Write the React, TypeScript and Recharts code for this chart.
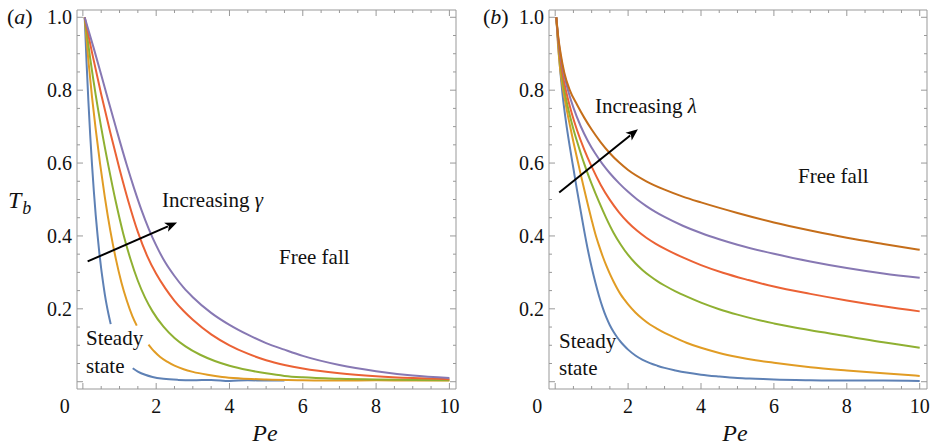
import React from 'react';
import { LineChart, Line, XAxis, YAxis, ReferenceArea, ReferenceLine } from 'recharts';

// panel (a): T_b vs Pe for increasing gamma  [Pe, Tb]; null marks a gap
const gammaBlue = [[0.05, 1.0], [0.1, 0.878], [0.15, 0.771], [0.2, 0.677], [0.25, 0.595], [0.3, 0.522], [0.35, 0.458], [0.4, 0.403], [0.45, 0.353], [0.5, 0.31], [0.55, 0.273], [0.6, 0.239], [0.65, 0.21], [0.7, 0.185], [0.76, 0.158], [1.0, null], [1.36, 0.037], [1.5, 0.028], [1.7, 0.019], [1.9, 0.013], [2.2, 0.008], [2.6, 0.005], [3.0, 0.004], [3.5, 0.005], [4.0, 0.002], [4.5, 0.004], [5.0, 0.003], [5.5, 0.003]];
const gammaOrange = [[0.05, 1.0], [0.15, 0.882], [0.25, 0.781], [0.35, 0.693], [0.47, 0.598], [0.6, 0.506], [0.75, 0.414], [0.9, 0.337], [1.05, 0.273], [1.2, 0.222], [1.35, 0.18], [1.47, 0.154], [1.6, null], [1.79, 0.102], [1.95, 0.083], [2.11, 0.068], [2.3, 0.055], [2.5, 0.044], [2.75, 0.034], [3.0, 0.027], [3.4, 0.019], [3.8, 0.013], [4.3, 0.009], [5.0, 0.006], [6.0, 0.004], [7.0, 0.003], [8.0, 0.004], [9.0, 0.003], [10.0, 0.003]];
const gammaGreen = [[0.05, 1.0], [0.2, 0.887], [0.35, 0.787], [0.5, 0.698], [0.7, 0.591], [0.9, 0.493], [1.1, 0.407], [1.3, 0.336], [1.5, 0.277], [1.7, 0.23], [1.9, 0.193], [2.2, 0.151], [2.5, 0.12], [2.8, 0.097], [3.2, 0.074], [3.6, 0.057], [4.0, 0.044], [4.5, 0.032], [5.0, 0.023], [5.5, 0.016], [6.0, 0.012], [7.0, 0.008], [8.0, 0.006], [9.0, 0.005], [10.0, 0.004]];
const gammaRed = [[0.05, 1.0], [0.25, 0.903], [0.5, 0.789], [0.75, 0.683], [1.0, 0.584], [1.25, 0.492], [1.5, 0.411], [1.75, 0.346], [2.0, 0.296], [2.25, 0.256], [2.5, 0.222], [2.75, 0.194], [3.0, 0.17], [3.5, 0.13], [4.0, 0.1], [4.5, 0.077], [5.0, 0.059], [5.5, 0.046], [6.0, 0.036], [7.0, 0.023], [8.0, 0.015], [9.0, 0.01], [10.0, 0.007]];
const gammaPurple = [[0.05, 1.0], [0.3, 0.914], [0.6, 0.806], [0.9, 0.698], [1.2, 0.594], [1.4, 0.53], [1.6, 0.471], [1.8, 0.419], [2.0, 0.374], [2.25, 0.327], [2.5, 0.29], [2.75, 0.258], [3.0, 0.232], [3.5, 0.189], [4.0, 0.156], [4.5, 0.129], [5.0, 0.106], [5.5, 0.088], [6.0, 0.071], [7.0, 0.046], [8.0, 0.029], [9.0, 0.017], [10.0, 0.01]];

// panel (b): T_b vs Pe for increasing lambda
const lambdaBlue = [[0.03, 1.0], [0.1, 0.9], [0.2, 0.79], [0.3, 0.71], [0.4, 0.645], [0.5, 0.585], [0.6, 0.525], [0.7, 0.468], [0.8, 0.412], [0.9, 0.36], [1.0, 0.314], [1.1, 0.273], [1.2, 0.236], [1.3, 0.204], [1.4, 0.177], [1.5, 0.155], [1.6, 0.137], [1.7, 0.122], [1.8, 0.109], [1.9, 0.098], [2.0, 0.088], [2.2, 0.072], [2.4, 0.06], [2.6, 0.051], [2.8, 0.044], [3.0, 0.038], [3.3, 0.031], [3.6, 0.025], [4.0, 0.019], [4.5, 0.014], [5.0, 0.01], [5.5, 0.008], [6.0, 0.006], [7.0, 0.004], [8.0, 0.003], [9.0, 0.003], [10.0, 0.002]];
const lambdaOrange = [[0.03, 1.0], [0.08, 0.92], [0.14, 0.855], [0.22, 0.8], [0.3, 0.755], [0.4, 0.705], [0.5, 0.658], [0.6, 0.613], [0.7, 0.569], [0.8, 0.526], [0.9, 0.484], [1.0, 0.444], [1.1, 0.406], [1.2, 0.374], [1.3, 0.345], [1.4, 0.319], [1.5, 0.296], [1.6, 0.275], [1.7, 0.256], [1.8, 0.239], [1.9, 0.225], [2.0, 0.212], [2.2, 0.19], [2.4, 0.172], [2.6, 0.157], [2.8, 0.145], [3.0, 0.134], [3.3, 0.12], [3.6, 0.107], [4.0, 0.093], [4.5, 0.079], [5.0, 0.068], [5.5, 0.059], [6.0, 0.052], [7.0, 0.04], [8.0, 0.031], [9.0, 0.023], [10.0, 0.016]];
const lambdaGreen = [[0.03, 1.0], [0.1, 0.915], [0.2, 0.83], [0.3, 0.775], [0.4, 0.731], [0.5, 0.693], [0.6, 0.659], [0.7, 0.627], [0.8, 0.597], [0.9, 0.569], [1.0, 0.543], [1.2, 0.494], [1.4, 0.449], [1.6, 0.409], [1.8, 0.376], [2.0, 0.348], [2.2, 0.325], [2.4, 0.306], [2.6, 0.29], [2.8, 0.276], [3.0, 0.264], [3.3, 0.248], [3.6, 0.234], [4.0, 0.217], [4.5, 0.199], [5.0, 0.184], [5.5, 0.171], [6.0, 0.16], [6.5, 0.15], [7.0, 0.141], [8.0, 0.125], [9.0, 0.108], [10.0, 0.093]];
const lambdaRed = [[0.03, 1.0], [0.08, 0.94], [0.15, 0.88], [0.22, 0.835], [0.31, 0.792], [0.45, 0.738], [0.6, 0.69], [0.8, 0.636], [1.0, 0.59], [1.25, 0.54], [1.5, 0.499], [1.75, 0.465], [2.0, 0.437], [2.25, 0.414], [2.5, 0.395], [2.75, 0.379], [3.0, 0.365], [3.5, 0.341], [4.0, 0.32], [4.6, 0.299], [5.3, 0.279], [6.0, 0.261], [7.0, 0.241], [8.0, 0.223], [9.0, 0.207], [10.0, 0.193]];
const lambdaPurple = [[0.03, 1.0], [0.08, 0.945], [0.15, 0.893], [0.25, 0.84], [0.35, 0.8], [0.5, 0.752], [0.7, 0.701], [0.9, 0.66], [1.1, 0.626], [1.3, 0.597], [1.5, 0.572], [1.75, 0.545], [2.0, 0.521], [2.25, 0.5], [2.5, 0.482], [2.75, 0.466], [3.0, 0.452], [3.5, 0.428], [4.0, 0.408], [4.5, 0.391], [5.0, 0.376], [6.0, 0.351], [7.0, 0.33], [8.0, 0.312], [9.0, 0.297], [10.0, 0.285]];
const lambdaBrown = [[0.03, 1.0], [0.08, 0.95], [0.15, 0.9], [0.25, 0.848], [0.4, 0.8], [0.6, 0.76], [0.8, 0.724], [1.0, 0.692], [1.25, 0.657], [1.5, 0.627], [1.75, 0.602], [2.0, 0.581], [2.5, 0.55], [3.0, 0.527], [3.5, 0.508], [4.0, 0.492], [5.0, 0.463], [6.0, 0.437], [7.0, 0.415], [8.0, 0.395], [9.0, 0.378], [10.0, 0.362]];

const xTicks = Array.from({ length: 21 }, (_, i) => i * 0.5);
const yTicks = Array.from({ length: 21 }, (_, i) => i * 0.05);

const COLORS = ['#5E81B5', '#E19C24', '#8FB032', '#EB6235', '#8778B3', '#C56E1A'];
const FRAME = '#999999';
const FONT = "'Liberation Serif', 'Times New Roman', Times, Tinos, 'DejaVu Serif', serif";

const pts = (a: any[]) => a.map(([x, y]) => ({ x, y }));

function makeXTick(top: number, bottom: number) {
  return (props: any) => {
    const { x, payload } = props;
    const v = payload.value;
    const major = Math.abs(v / 2 - Math.round(v / 2)) < 1e-6;
    const len = major ? 6 : 3;
    return (
      <g>
        <line x1={x} x2={x} y1={bottom} y2={bottom - len} stroke={FRAME} />
        <line x1={x} x2={x} y1={top} y2={top + len} stroke={FRAME} />
        {major && (
          <text x={v === 0 ? x - 18 : x} y={bottom + 24} textAnchor="middle" style={{ fontFamily: FONT, fontSize: 20 }} fill="#111">
            {Math.round(v)}
          </text>
        )}
      </g>
    );
  };
}

function makeYTick(left: number, right: number) {
  return (props: any) => {
    const { y, payload } = props;
    const v = payload.value;
    const major = Math.abs(v / 0.2 - Math.round(v / 0.2)) < 1e-6;
    const len = major ? 6 : 3;
    return (
      <g>
        <line x1={left} x2={left + len} y1={y} y2={y} stroke={FRAME} />
        <line x1={right} x2={right - len} y1={y} y2={y} stroke={FRAME} />
        {major && v > 0.01 && (
          <text x={left - 5} y={y + 7} textAnchor="end" style={{ fontFamily: FONT, fontSize: 20 }} fill="#111">
            {v.toFixed(1)}
          </text>
        )}
      </g>
    );
  };
}

const Arrow = (props: any) => {
  const { x1, y1, x2, y2 } = props;
  const dx = x2 - x1;
  const dy = y2 - y1;
  const l = Math.sqrt(dx * dx + dy * dy);
  const ux = dx / l;
  const uy = dy / l;
  const hl = 12;
  const hw = 5;
  const bx = x2 - ux * hl;
  const by = y2 - uy * hl;
  return (
    <g>
      <line x1={x1} y1={y1} x2={bx + ux * 2} y2={by + uy * 2} stroke="#000" strokeWidth={2} />
      <polygon
        points={`${x2},${y2} ${bx - uy * hw},${by + ux * hw} ${bx + ux * 3},${by + uy * 3} ${bx + uy * hw},${by - ux * hw}`}
        fill="#000"
      />
    </g>
  );
};

type PanelProps = {
  series: any[][];
  width: number;
  yAxisWidth: number;
  marginRight: number;
  xDomain: [number, number];
  arrow: [number, number, number, number];
};

function Panel({ series, width, yAxisWidth, marginRight, xDomain, arrow }: PanelProps) {
  const top = 10;
  const bottom = 389;
  const left = yAxisWidth;
  const right = width - marginRight;
  return (
    <LineChart width={width} height={445} margin={{ top, right: marginRight, bottom: 0, left: 0 }}>
      <XAxis
        dataKey="x"
        type="number"
        domain={xDomain}
        allowDataOverflow
        ticks={xTicks}
        interval={0}
        tick={makeXTick(top, bottom)}
        tickLine={false}
        axisLine={false}
        tickSize={0}
        height={56}
      />
      <YAxis
        type="number"
        domain={[-0.02, 1.02]}
        allowDataOverflow
        ticks={yTicks}
        interval={0}
        tick={makeYTick(left, right)}
        tickLine={false}
        axisLine={false}
        tickSize={0}
        width={yAxisWidth}
      />
      <ReferenceArea x1={xDomain[0]} x2={xDomain[1]} y1={-0.02} y2={1.02} fill="none" stroke={FRAME} strokeWidth={1} />
      {series.map((s, i) => (
        <Line
          key={i}
          data={pts(s)}
          dataKey="y"
          type="monotone"
          stroke={COLORS[i]}
          strokeWidth={2}
          dot={false}
          isAnimationActive={false}
          connectNulls={false}
        />
      ))}
      <ReferenceLine
        segment={[{ x: arrow[0], y: arrow[1] }, { x: arrow[2], y: arrow[3] }]}
        shape={Arrow}
        ifOverflow="visible"
      />
    </LineChart>
  );
}

export default function App() {
  const t = (size: number, italic = false) => ({ fontFamily: FONT, fontSize: size, fontStyle: italic ? 'italic' : 'normal' });
  return (
    <div style={{ position: 'absolute', left: 0, top: 0, width: 931, height: 445, background: '#fff', fontFamily: FONT }}>
      <div style={{ position: 'absolute', left: 0, top: 0 }}>
        <Panel
          series={[gammaBlue, gammaOrange, gammaGreen, gammaRed, gammaPurple]}
          width={470}
          yAxisWidth={77}
          marginRight={14}
          xDomain={[-0.16, 10.18]}
          arrow={[0.13, 0.33, 2.57, 0.437]}
        />
      </div>
      <div style={{ position: 'absolute', left: 470, top: 0 }}>
        <Panel
          series={[lambdaBlue, lambdaOrange, lambdaGreen, lambdaRed, lambdaPurple, lambdaBrown]}
          width={461}
          yAxisWidth={79}
          marginRight={4}
          xDomain={[-0.17, 10.2]}
          arrow={[0.11, 0.519, 2.27, 0.693]}
        />
      </div>
      <svg width={931} height={445} style={{ position: 'absolute', left: 0, top: 0, pointerEvents: 'none' }} fill="#111">
        <text x={7} y={24} style={t(22)}>(<tspan style={{ fontStyle: 'italic' }}>a</tspan>)</text>
        <text x={483} y={24} style={t(22)}>(<tspan style={{ fontStyle: 'italic' }}>b</tspan>)</text>
        <text x={8} y={208} style={t(24, true)}>
          T<tspan style={{ fontSize: 18 }} dx={1} dy={6}>b</tspan>
        </text>
        <text x={265} y={441} style={t(24, true)} textAnchor="middle">Pe</text>
        <text x={735} y={441} style={t(24, true)} textAnchor="middle">Pe</text>
        <text x={162} y={207} style={t(21)}>Increasing <tspan style={{ fontStyle: 'italic' }}>γ</tspan></text>
        <text x={279} y={264} style={t(21)}>Free fall</text>
        <text x={86} y={345} style={t(21)}>Steady</text>
        <text x={86} y={373} style={t(21)}>state</text>
        <text x={595} y={113} style={t(21)}>Increasing <tspan style={{ fontStyle: 'italic' }}>λ</tspan></text>
        <text x={798} y={183} style={t(21)}>Free fall</text>
        <text x={559} y={348} style={t(21)}>Steady</text>
        <text x={559} y={375} style={t(21)}>state</text>
      </svg>
    </div>
  );
}
